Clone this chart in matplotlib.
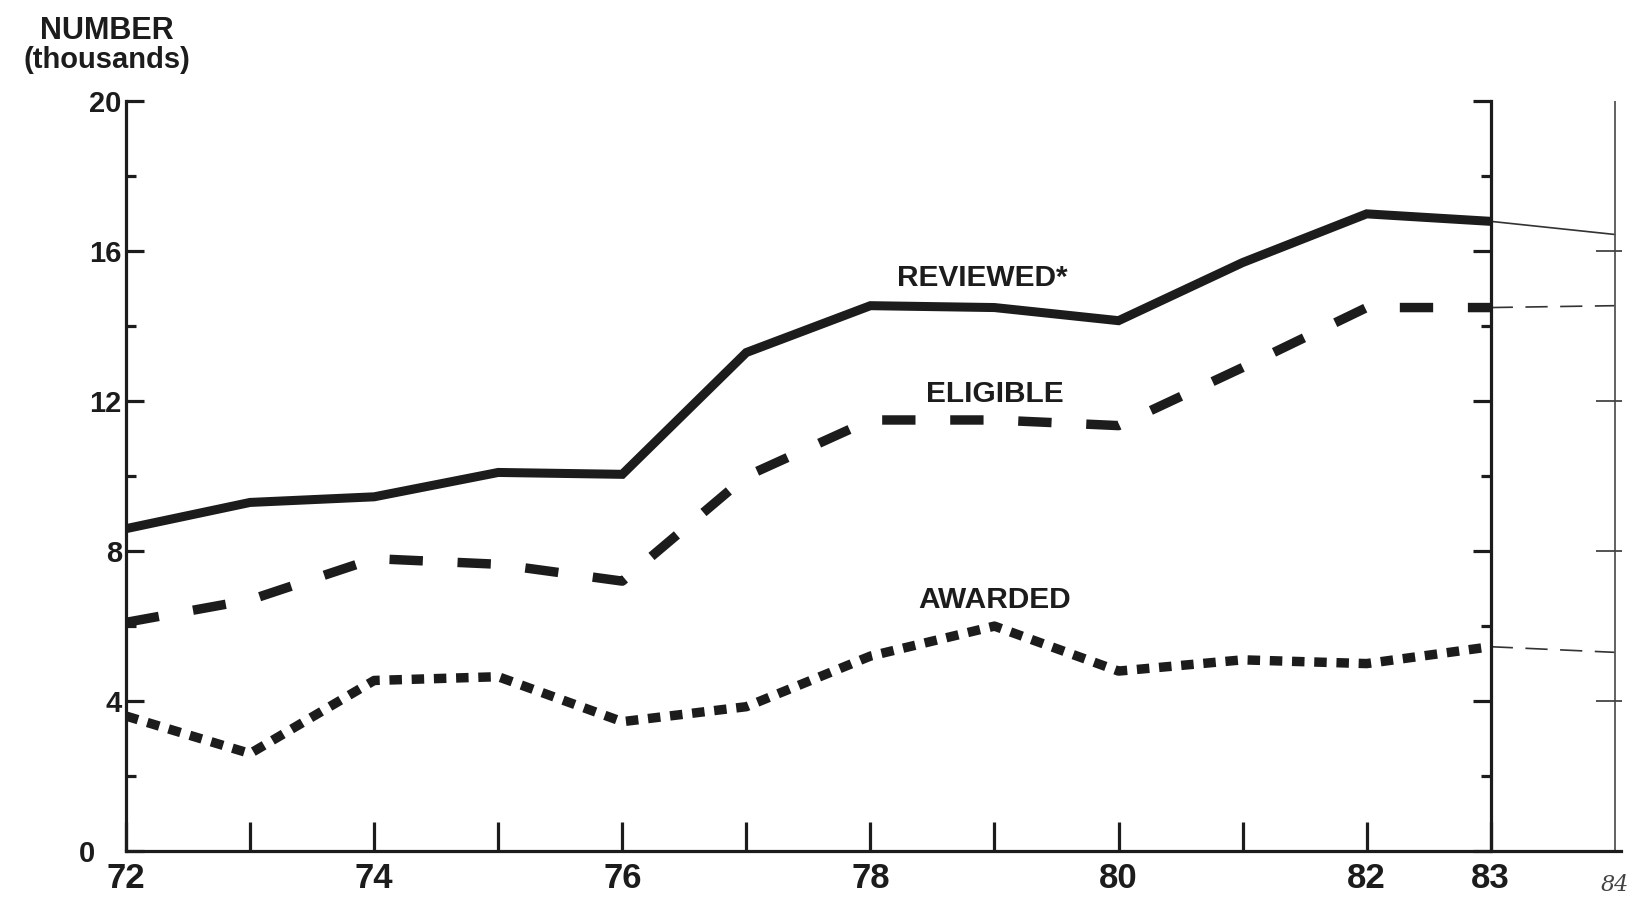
import matplotlib
matplotlib.use("Agg")
import matplotlib.pyplot as plt

# --- data (thousands) ---
years = [72, 73, 74, 75, 76, 77, 78, 79, 80, 81, 82, 83]
reviewed = [8.6, 9.3, 9.45, 10.1, 10.05, 13.3, 14.55, 14.5, 14.15, 15.7, 17.0, 16.8]
eligible = [6.1, 6.7, 7.8, 7.65, 7.2, 10.0, 11.5, 11.5, 11.35, 12.9, 14.5, 14.5]
awarded = [3.6, 2.6, 4.55, 4.65, 3.45, 3.85, 5.2, 6.0, 4.8, 5.1, 5.0, 5.45]

# hand-drawn extension to 84
ext_years = [83, 84]
reviewed_ext = [16.8, 16.45]
eligible_ext = [14.5, 14.55]
awarded_ext = [5.45, 5.3]
ext_ticks = [16, 12, 8, 4]

x_labels = ["72", "", "74", "", "76", "", "78", "", "80", "", "82", "83"]
y_major = [0, 4, 8, 12, 16, 20]
y_minor = [2, 6, 10, 14, 18]

INK = "#1c1c1c"
plt.rcParams["font.family"] = ["Liberation Sans", "DejaVu Sans"]
plt.rcParams["lines.scale_dashes"] = False

fig = plt.figure(figsize=(16.41, 9.08), dpi=100)
ax = fig.add_axes([0.0768, 0.0628, 0.911, 0.8255])
ax.set_xlim(72, 84.05)
ax.set_ylim(0, 20)

# main series
ax.plot(years, reviewed, color=INK, lw=6.5, solid_joinstyle="miter", solid_capstyle="butt")
ax.plot(years, eligible, color=INK, lw=6.8, dashes=(24, 25), dash_capstyle="butt")
ax.plot(years, awarded, color=INK, lw=6.8, dashes=(9, 7), dash_capstyle="butt")

# thin pencilled extension
ax.plot(ext_years, reviewed_ext, color="#333333", lw=1.2)
ax.plot(ext_years, eligible_ext, color="#333333", lw=1.2, dashes=(16, 9))
ax.plot(ext_years, awarded_ext, color="#333333", lw=1.2, dashes=(16, 9))
ax.axvline(84, color="#555555", lw=1.3)
ax.plot([84] * len(ext_ticks), ext_ticks, ls="none", marker="_", ms=28, mew=1.3, color="#444444")

# series labels
lab = dict(fontsize=21.5, fontweight="bold", color=INK, ha="center", va="center")
ax.text(78.9, 15.3, "REVIEWED*", **lab)
ax.text(79.0, 12.2, "ELIGIBLE", **lab)
ax.text(79.0, 6.7, "AWARDED", **lab)

# axes styling
ax.spines["top"].set_visible(False)
ax.spines["right"].set_position(("data", 83))
for side in ["left", "bottom", "right"]:
    ax.spines[side].set_linewidth(2.3)
    ax.spines[side].set_color(INK)

ax.set_yticks(y_major)
ax.set_yticks(y_minor, minor=True)
ax.set_xticks(years)
ax.set_xticklabels(x_labels)
ax.tick_params(axis="y", which="both", direction="in", left=True, right=True,
               width=2.3, color=INK, labelsize=21, pad=3)
ax.tick_params(axis="y", which="major", length=13)
ax.tick_params(axis="y", which="minor", length=7)
ax.tick_params(axis="x", direction="in", length=21, width=2.3, color=INK,
               labelsize=25, pad=8)
for t in ax.get_xticklabels() + ax.get_yticklabels():
    t.set_fontweight("bold")
    t.set_color(INK)
# the "0" sits further left in the original, clear of "72"
ax.yaxis.get_major_ticks()[0].set_pad(22)

ax.text(84.0, -0.9, "84", fontsize=16, style="italic", color="#444444",
        ha="center", va="center", family=["DejaVu Serif"])

fig.text(0.065, 0.966, "NUMBER", fontsize=22, fontweight="bold", color=INK,
         ha="center", va="center")
fig.text(0.065, 0.934, "(thousands)", fontsize=21, fontweight="bold", color=INK,
         ha="center", va="center")

fig.savefig("out.png", dpi=100)
